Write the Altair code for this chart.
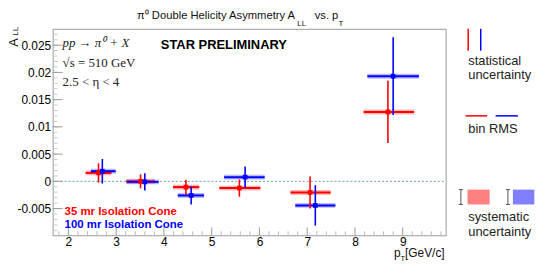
import altair as alt
import pandas as pd

# ---- data ----
series_names = ["35 mr", "100 mr"]

pt_35 = [2.63, 3.51, 4.46, 5.58, 7.06, 8.69]
all_35 = [0.00155, 0.0000, -0.00106, -0.00124, -0.00204, 0.01274]
stat_35 = [0.00177, 0.00128, 0.00137, 0.00159, 0.00295, 0.00571]
rms_lo_35 = [2.36, 3.21, 4.19, 5.16, 6.65, 8.18]
rms_hi_35 = [2.90, 3.81, 4.74, 6.02, 7.49, 9.24]
sys_35 = [0.00045, 0.00045, 0.00045, 0.00045, 0.00045, 0.00045]

pt_100 = [2.71, 3.60, 4.57, 5.70, 7.17, 8.80]
all_100 = [0.00186, -0.0001, -0.00259, 0.00077, -0.00442, 0.0193]
stat_100 = [0.00225, 0.00158, 0.00168, 0.00197, 0.0037, 0.00714]
rms_lo_100 = [2.47, 3.22, 4.29, 5.26, 6.75, 8.26]
rms_hi_100 = [2.99, 3.89, 4.84, 6.11, 7.59, 9.34]
sys_100 = [0.00045, 0.00045, 0.00045, 0.00045, 0.00045, 0.00045]

x_major = [2, 3, 4, 5, 6, 7, 8, 9]
x_minor = [round(1.8 + 0.2 * i, 2) for i in range(41) if abs((1.8 + 0.2 * i) - round(1.8 + 0.2 * i)) > 1e-6]
y_major = [-0.005, 0, 0.005, 0.01, 0.015, 0.02, 0.025]
y_minor = [round(-0.009 + 0.001 * i, 4) for i in range(37)]

X_DOMAIN = [1.67, 9.9]
Y_DOMAIN = [-0.0099, 0.028]
W, H = 396, 208
FONT = "Liberation Sans"
SERIF = "Liberation Serif"
RED, BLUE = "#ff0000", "#0000ff"


def frame(name, pt, a, stat, lo, hi, sys):
    return pd.DataFrame({
        "series": name, "pt": pt, "A": a,
        "slo": [v - s for v, s in zip(a, stat)], "shi": [v + s for v, s in zip(a, stat)],
        "rlo": lo, "rhi": hi,
        "ylo": [v - s for v, s in zip(a, sys)], "yhi": [v + s for v, s in zip(a, sys)],
    })


df = pd.concat([
    frame(series_names[0], pt_35, all_35, stat_35, rms_lo_35, rms_hi_35, sys_35),
    frame(series_names[1], pt_100, all_100, stat_100, rms_lo_100, rms_hi_100, sys_100),
])

xs = alt.Scale(domain=X_DOMAIN, nice=False, zero=False)
ys = alt.Scale(domain=Y_DOMAIN, nice=False, zero=False)
cs = alt.Scale(domain=series_names, range=[RED, BLUE])

x_axis = alt.Axis(values=x_major, format="d", ticks=False, domain=False, grid=False,
                  labelFont=FONT, labelFontSize=12, labelColor="#000", labelPadding=1,
                  labelOverlap=False, title=None)
y_axis = alt.Axis(values=y_major, ticks=False, domain=False, grid=False,
                  labelExpr="'' + datum.value", labelFont=FONT, labelFontSize=12,
                  labelColor="#000", labelPadding=2, labelOverlap=False, title=None)


def X(f):
    return alt.X(f, scale=xs, axis=x_axis)


def Y(f):
    return alt.Y(f, scale=ys, axis=y_axis)


base = alt.Chart(df)

zero_line = alt.Chart(pd.DataFrame({"A": [0.0]})).mark_rule(
    color="#5f9ea0", strokeDash=[2, 2], strokeWidth=1).encode(
    y=Y("A:Q"), x=alt.value(0), x2=alt.value(W))

tick_color = "#9a9a9a"
xmaj = alt.Chart(pd.DataFrame({"v": x_major})).mark_rule(color=tick_color).encode(
    x=X("v:Q"), y=alt.value(H), y2=alt.value(H - 8))
xmin = alt.Chart(pd.DataFrame({"v": x_minor})).mark_rule(color="#bbbbbb").encode(
    x=X("v:Q"), y=alt.value(H), y2=alt.value(H - 4))
ymaj = alt.Chart(pd.DataFrame({"v": y_major})).mark_rule(color=tick_color).encode(
    y=Y("v:Q"), x=alt.value(0), x2=alt.value(10))
ymin = alt.Chart(pd.DataFrame({"v": y_minor})).mark_rule(color="#cccccc").encode(
    y=Y("v:Q"), x=alt.value(0), x2=alt.value(5))

sys_boxes = base.mark_rect(opacity=0.28).encode(
    x=X("rlo:Q"), x2="rhi:Q",
    y=Y("ylo:Q"), y2="yhi:Q",
    color=alt.Color("series:N", scale=cs, legend=None))

rms = base.mark_rule(strokeWidth=2).encode(
    x=X("rlo:Q"), x2="rhi:Q",
    y=Y("A:Q"),
    color=alt.Color("series:N", scale=cs, legend=None))

stat = base.mark_rule(strokeWidth=1.6).encode(
    x=X("pt:Q"),
    y=Y("slo:Q"), y2="shi:Q",
    color=alt.Color("series:N", scale=cs, legend=None))

markers = base.mark_point(shape="square", filled=True, size=22, opacity=1).encode(
    x=X("pt:Q"), y=Y("A:Q"),
    color=alt.Color("series:N", scale=cs, legend=None))

one = pd.DataFrame({"k": [0]})


def txt(s, x, y, size=12, font=FONT, color="#000", align="left", weight="normal",
        style="normal", angle=0):
    kw = dict(text=s, font=font, fontSize=size, color=color, align=align,
              baseline="alphabetic", fontWeight=weight, fontStyle=style)
    if angle:
        kw["angle"] = angle
    return alt.Chart(one).mark_text(**kw).encode(x=alt.value(x), y=alt.value(y))


def vline(x, y1, y2, color, w=1.5):
    return alt.Chart(one).mark_rule(color=color, strokeWidth=w).encode(
        x=alt.value(x), y=alt.value(y1), y2=alt.value(y2))


def hline(x1, x2, y, color, w=1.5):
    return alt.Chart(one).mark_rule(color=color, strokeWidth=w).encode(
        x=alt.value(x1), x2=alt.value(x2), y=alt.value(y))


def box(x1, x2, y1, y2, color):
    return alt.Chart(one).mark_rect(color=color).encode(
        x=alt.value(x1), x2=alt.value(x2), y=alt.value(y1), y2=alt.value(y2))


texts = [
    # title
    txt("\u03c0\u2070 Double Helicity Asymmetry A", 85, -10, size=11.3, color="#111"),
    txt("LL", 246.5, -3, size=8, color="#111"),
    txt("vs. p", 264, -10, size=11.3, color="#111"),
    txt("T", 288, -3, size=8, color="#111"),
    # y title
    txt("A", -34.5, 18, size=13, angle=270, color="#111"),
    txt("LL", -35, 7, size=8, angle=270, color="#111"),
    # x title
    txt("p", 344, 230, size=12, color="#111"),
    txt("T", 350.5, 234, size=7.5, color="#111"),
    txt("[GeV/c]", 355, 230, size=12, color="#111"),
    # annotations
    txt("pp \u2192 \u03c0\u2070 + X", 10, 18.5, size=13, font=SERIF, style="italic", color="#222"),
    txt("\u221as = 510 GeV", 10, 38, size=13, font=SERIF, color="#222"),
    txt("2.5 < \u03b7 < 4", 10, 57.5, size=13, font=SERIF, color="#222"),
    txt("STAR PRELIMINARY", 109, 20.5, size=13, weight="bold"),
    txt("35 mr Isolation Cone", 12, 188, size=11.5, weight="bold", color=RED),
    txt("100 mr Isolation Cone", 12, 200.3, size=11.5, weight="bold", color=BLUE),
    # legend
    txt("statistical", 418.7, 36.5, size=13, color="#222"),
    txt("uncertainty", 418.7, 51, size=13, color="#222"),
    txt("bin RMS", 418.7, 105.3, size=13, color="#222"),
    txt("systematic", 418.7, 194, size=13, color="#222"),
    txt("uncertainty", 418.7, 208.7, size=13, color="#222"),
]

legend_marks = [
    vline(418.7, 0, 22, RED), vline(431.3, 0, 22, BLUE),
    hline(416, 437.7, 87.7, RED), hline(446.3, 468.7, 87.7, BLUE),
    box(418, 440.3, 162, 177, "#ff8080"), box(463.7, 485.3, 162, 177, "#8080ff"),
    vline(411.3, 162, 177, "#555555", 1), hline(409.3, 413.3, 162, "#555555", 1), hline(409.3, 413.3, 177, "#555555", 1),
    vline(458.7, 162, 177, "#555555", 1), hline(456.7, 460.7, 162, "#555555", 1), hline(456.7, 460.7, 177, "#555555", 1),
]

chart = alt.layer(
    zero_line, ymin, ymaj, xmin, xmaj,
    sys_boxes, rms, stat, markers, *texts, *legend_marks
).properties(
    width=W, height=H,
    autosize=alt.AutoSizeParams(type="none"),
    padding={"left": 45, "top": 20, "right": 92, "bottom": 30},
).configure_view(stroke="#999999", strokeWidth=1)

chart.save("out.html", embed_options={"renderer": "svg", "actions": False})
